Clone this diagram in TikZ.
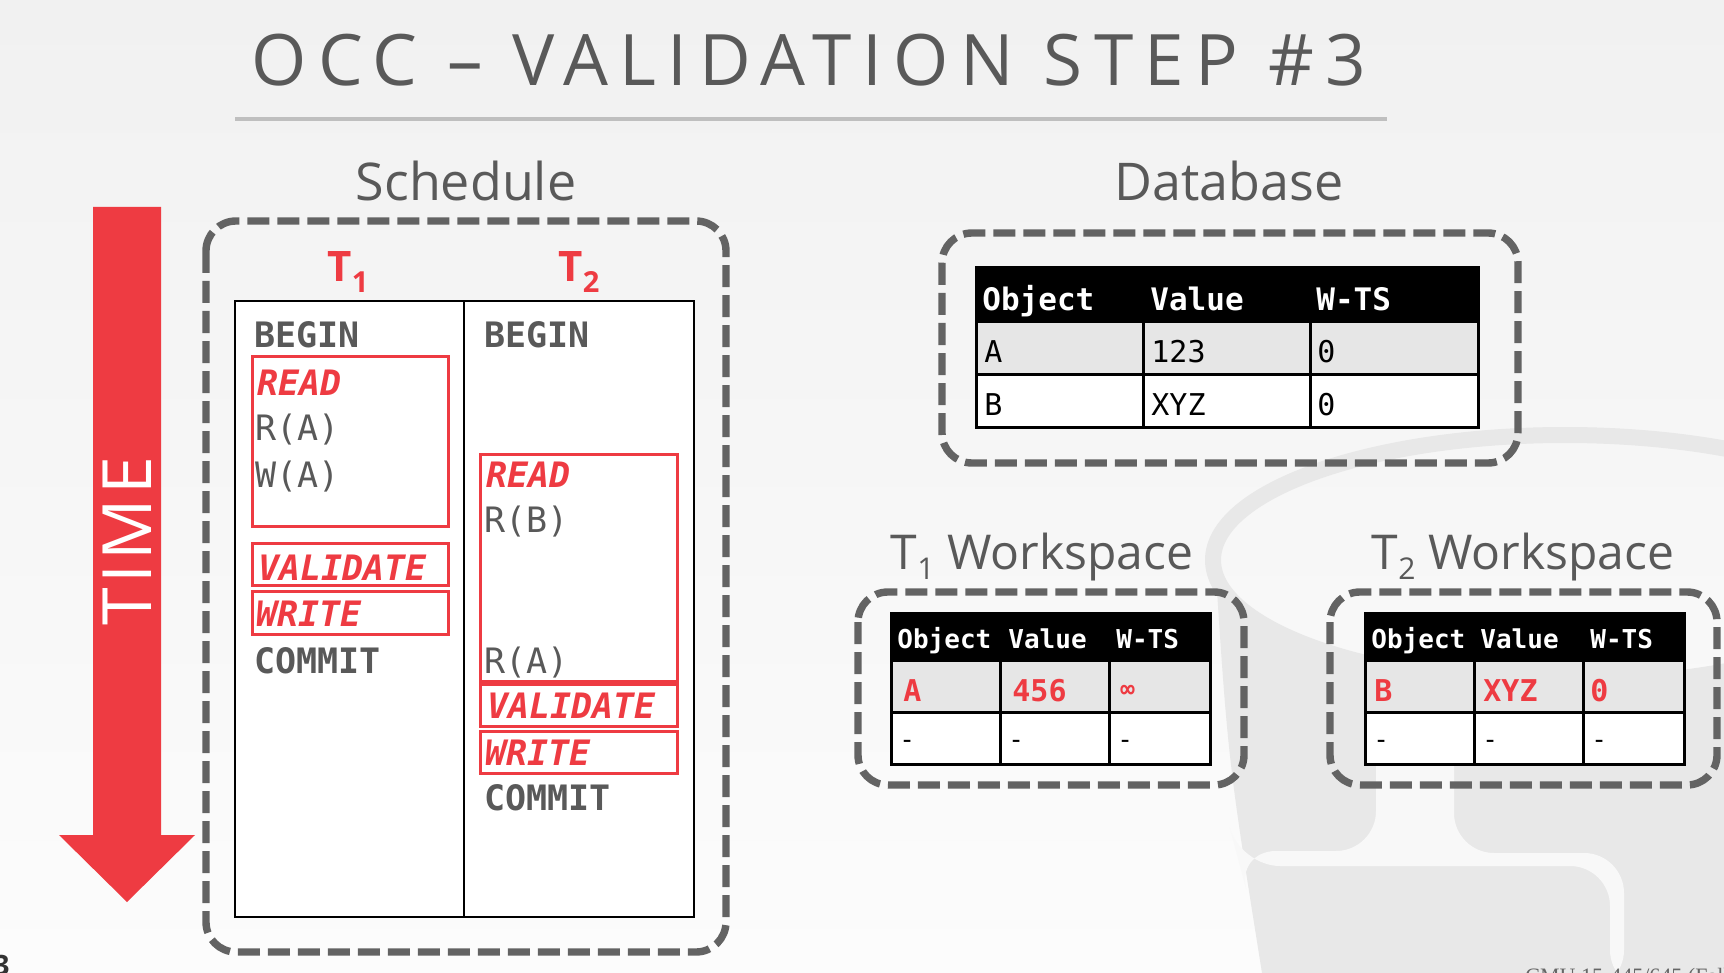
\documentclass[tikz,border=0pt]{standalone}
\usepackage{fontspec}
\setmainfont{Open Sans}
\setmonofont{DejaVu Sans Mono}
\newfontfamily\footfont{Liberation Serif}
\usetikzlibrary{positioning}

\definecolor{occred}{HTML}{EE3B42}
\definecolor{boxgray}{HTML}{636363}
\definecolor{inkgray}{HTML}{595959}
\definecolor{rowgray}{HTML}{E6E6E6}
\definecolor{logogray}{HTML}{E8E8E8}
\definecolor{logogap}{HTML}{F8F8F8}
\definecolor{bgtop}{HTML}{F1F1F1}
\definecolor{bgbottom}{HTML}{FCFCFC}

\begin{document}
\begin{tikzpicture}[x=0.5pt,y=-0.5pt]
\tikzset{dashbox/.style = {draw=boxgray, line width=3.7pt, dash pattern=on 11pt off 4pt, rounded corners=15pt}}
\tikzset{phasebox/.style = {draw=occred, line width=1.5pt}}
\tikzset{headline/.style = {text=inkgray, font=\fontsize{26}{30}\selectfont}}
\tikzset{cmd/.style = {anchor=base west, inner sep=0, text=inkgray, font=\ttfamily\bfseries\fontsize{17.5}{20}\selectfont}}
\tikzset{opn/.style = {cmd, font=\ttfamily\fontsize{17.5}{20}\selectfont}}
\tikzset{phasetxt/.style = {cmd, text=occred, font=\ttfamily\bfseries\itshape\fontsize{17.5}{20}\selectfont}}
\tikzset{dbhdr/.style = {anchor=base west, inner sep=0, text=white, font=\ttfamily\bfseries\fontsize{15.5}{18}\selectfont}}
\tikzset{dbcell/.style = {anchor=base west, inner sep=0, text=black, font=\ttfamily\fontsize{15}{18}\selectfont}}
\tikzset{wshdr/.style = {dbhdr, font=\ttfamily\bfseries\fontsize{13}{15}\selectfont}}
\tikzset{wsval/.style = {dbcell, text=occred, font=\ttfamily\bfseries\fontsize{15}{18}\selectfont}}
\tikzset{wsnone/.style = {dbcell, font=\ttfamily\fontsize{13}{15}\selectfont}}
\tikzset{grid/.style = {draw=black, line width=1.5pt}}

\useasboundingbox (0,0) rectangle (1724,973);
\clip (0,0) rectangle (1724,973);
\shade[top color=bgtop, bottom color=bgbottom] (0,0) rectangle (1724,973);

% faint logo in the back
\fill[logogray] (1215,560) .. controls (1215,629) and (1372,685) .. (1565,685) .. controls (1758,685) and (1915,629) .. (1915,560) -- (1915,973) -- (1262,973) .. controls (1228,760) .. (1215,560) -- cycle;
\fill[logogap, rounded corners=20pt] (1236,851) -- (1376,851) -- (1376,690) -- (1454,690) -- (1454,853) -- (1624,853) -- (1624,990) -- (1610,990) -- (1610,866) -- (1240,866) -- cycle;
\draw[logogray, line width=8pt] (1565,560) ellipse [x radius=352, y radius=125];

% title
\node[anchor=base west, inner sep=0, text=inkgray, font=\fontsize{35.5}{40}\selectfont\addfontfeature{LetterSpace=16}] (title) at (251,86) {OCC – VALIDATION STEP \#3};
\draw[black!25, line width=2pt] (235,119) -- (1387,119);

\node[headline] (schedhead) at (466,181) {Schedule};
\node[headline] (dbhead) at (1229,181) {Database};

% time arrow
\fill[occred] (93,207) -- (161,207) -- (161,835) -- (195,835) -- (127,902) -- (59,835) -- (93,835) -- cycle;
\node[rotate=90, text=white, font=\fontsize{34}{34}\selectfont\addfontfeature{LetterSpace=6}] (timelbl) at (127,541) {TIME};

% schedule
\draw[dashbox] (206,221) rectangle (726,952);
\draw[fill=white, line width=1pt] (235,301) rectangle (694,917);
\draw[line width=1pt] (464,301) -- (464,917);
\node[anchor=base, inner sep=0, text=occred, font=\bfseries\fontsize{21}{24}\selectfont] (tone) at (348,282) {T\raisebox{-5.5pt}{\fontsize{14.5}{14.5}\selectfont 1}};
\node[anchor=base, inner sep=0, text=occred, font=\bfseries\fontsize{21}{24}\selectfont] (ttwo) at (579,282) {T\raisebox{-5.5pt}{\fontsize{14.5}{14.5}\selectfont 2}};

\draw[phasebox] (252,356) rectangle (448,526);
\draw[phasebox] (252,543) rectangle (448,585);
\draw[phasebox] (252,591) rectangle (448,634);
\draw[phasebox] (480,454) rectangle (677,681);
\draw[phasebox] (480,684) rectangle (677,726);
\draw[phasebox] (480,731) rectangle (677,773);

\node[cmd] (beginone) at (254,348) {BEGIN};
\node[phasetxt] (readone) at (257,395) {READ};
\node[opn] (rdaone) at (255,440) {R(A)};
\node[opn] (wraone) at (255,487) {W(A)};
\node[phasetxt] (valone) at (258,580) {VALIDATE};
\node[phasetxt] (writeone) at (256,626) {WRITE};
\node[cmd] (commitone) at (254,673) {COMMIT};

\node[cmd] (begintwo) at (484,348) {BEGIN};
\node[phasetxt] (readtwo) at (486,487) {READ};
\node[opn] (rdbtwo) at (484,532) {R(B)};
\node[opn] (rdatwo) at (484,673) {R(A)};
\node[phasetxt] (valtwo) at (487,718) {VALIDATE};
\node[phasetxt] (writetwo) at (485,765) {WRITE};
\node[cmd] (committwo) at (484,810) {COMMIT};

% database
\draw[dashbox] (942,233) rectangle (1518,463);
\fill[black] (976,268) rectangle (1478,322);
\fill[rowgray] (976,322) rectangle (1478,374);
\fill[white] (976,374) rectangle (1478,427);
\draw[grid] (976,268) rectangle (1478,427);
\draw[grid] (976,322) -- (1478,322) (976,374) -- (1478,374) (1143,322) -- (1143,427) (1310,322) -- (1310,427);
\node[dbhdr] (dbobj) at (982,310) {Object};
\node[dbhdr] (dbval) at (1150,310) {Value};
\node[dbhdr] (dbwts) at (1316,310) {W-TS};
\node[dbcell] (dbaobj) at (984,362) {A};
\node[dbcell] (dbaval) at (1151,362) {123};
\node[dbcell] (dbawts) at (1317,362) {0};
\node[dbcell] (dbbobj) at (984,415) {B};
\node[dbcell] (dbbval) at (1151,415) {XYZ};
\node[dbcell] (dbbwts) at (1317,415) {0};

% T1 workspace
\node[headline, font=\fontsize{24}{28}\selectfont] (wsonehead) at (1042,557) {T\raisebox{-5pt}{\fontsize{15}{15}\selectfont 1} Workspace};
\draw[dashbox] (858,592) rectangle (1244,785);
\fill[black] (891,613) rectangle (1210,660);
\fill[rowgray] (891,660) rectangle (1210,712);
\fill[white] (891,712) rectangle (1210,764);
\draw[grid] (891,613) rectangle (1210,764);
\draw[grid] (891,660) -- (1210,660) (891,712) -- (1210,712) (1000,660) -- (1000,764) (1109,660) -- (1109,764);
\node[wshdr] (wsoneobj) at (897,648) {Object};
\node[wshdr] (wsoneval) at (1008,648) {Value};
\node[wshdr] (wsonewts) at (1116,648) {W-TS};
\node[wsval] (wsonea) at (903,701) {A};
\node[wsval] (wsoneaval) at (1012,701) {456};
\node[wsval, font=\ttfamily\bfseries\fontsize{12}{14}\selectfont] (wsoneawts) at (1120,697) {∞};
\node[wsnone] (wsonenobj) at (899,748) {-};
\node[wsnone] (wsonenval) at (1008,748) {-};
\node[wsnone] (wsonenwts) at (1117,748) {-};

% T2 workspace
\node[headline, font=\fontsize{24}{28}\selectfont] (wstwohead) at (1523,557) {T\raisebox{-5pt}{\fontsize{15}{15}\selectfont 2} Workspace};
\draw[dashbox] (1330,592) rectangle (1717,785);
\fill[black] (1365,613) rectangle (1684,660);
\fill[rowgray] (1365,660) rectangle (1684,712);
\fill[white] (1365,712) rectangle (1684,764);
\draw[grid] (1365,613) rectangle (1684,764);
\draw[grid] (1365,660) -- (1684,660) (1365,712) -- (1684,712) (1474,660) -- (1474,764) (1583,660) -- (1583,764);
\node[wshdr] (wstwoobj) at (1371,648) {Object};
\node[wshdr] (wstwoval) at (1480,648) {Value};
\node[wshdr] (wstwowts) at (1590,648) {W-TS};
\node[wsval] (wstwob) at (1374,701) {B};
\node[wsval] (wstwobval) at (1483,701) {XYZ};
\node[wsval] (wstwobwts) at (1590,701) {0};
\node[wsnone] (wstwonobj) at (1373,748) {-};
\node[wsnone] (wstwonval) at (1482,748) {-};
\node[wsnone] (wstwonwts) at (1591,748) {-};

% page footer, cut by the edge
\node[anchor=base west, inner sep=0, text=black!60, font=\footfont\fontsize{11}{11}\selectfont] (footer) at (1525,983) {CMU 15-445/645 (Fall 2019)};
\node[anchor=north east, inner sep=0, text=black!80, font=\bfseries\fontsize{14}{14}\selectfont] (pagenum) at (10,955) {3};
\end{tikzpicture}
\end{document}
